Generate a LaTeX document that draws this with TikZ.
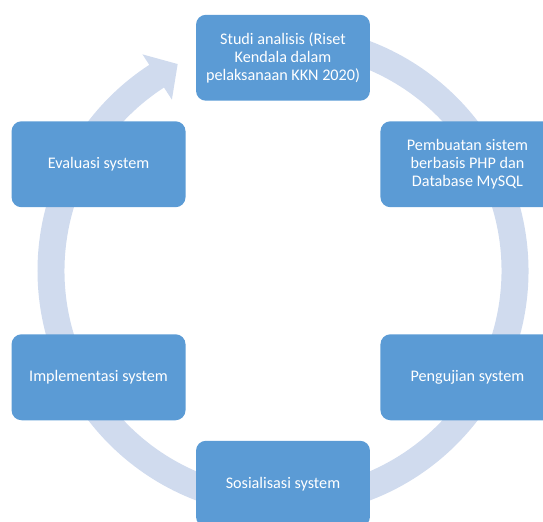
\documentclass[tikz,border=0pt]{standalone}
\usepackage{fontspec}
\setmainfont{Carlito}
\usepackage{xcolor}
\usepackage{tikz}

\definecolor{StageBlue}{HTML}{5B9BD5}
\definecolor{RingBlue}{HTML}{D0DBEE}

\begin{document}
\begin{tikzpicture}[x=0.02cm, y=0.02cm,
        stage/.style={fill=StageBlue, rounded corners=0.2cm, minimum width=3.48cm, minimum height=1.72cm,
            text=white, align=center, font=\fontsize{9.2}{10.4}\selectfont}]
        \useasboundingbox (-283, -250.25) rectangle (260, 270.75);

        % ring with arrow head
        \fill[color=RingBlue] (95:245.5) arc[start angle=95, end angle=-237, radius=245.5]
            -- (123:258) -- (117:232) -- (123:204)
            -- (-237:218.5) arc[start angle=-237, end angle=95, radius=218.5] -- cycle;

        \node[stage] (studi) at (90:213) {Studi analisis (Riset\\Kendala dalam\\pelaksanaan KKN 2020)};
        \node[stage] (pembuatan) at (30:213) {Pembuatan sistem\\berbasis PHP dan\\Database MySQL};
        \node[stage] (pengujian) at (-30:213) {Pengujian system};
        \node[stage] (sosialisasi) at (-90:213) {Sosialisasi system};
        \node[stage] (implementasi) at (210:213) {Implementasi system};
        \node[stage] (evaluasi) at (150:213) {Evaluasi system};
    \end{tikzpicture}
\end{document}
